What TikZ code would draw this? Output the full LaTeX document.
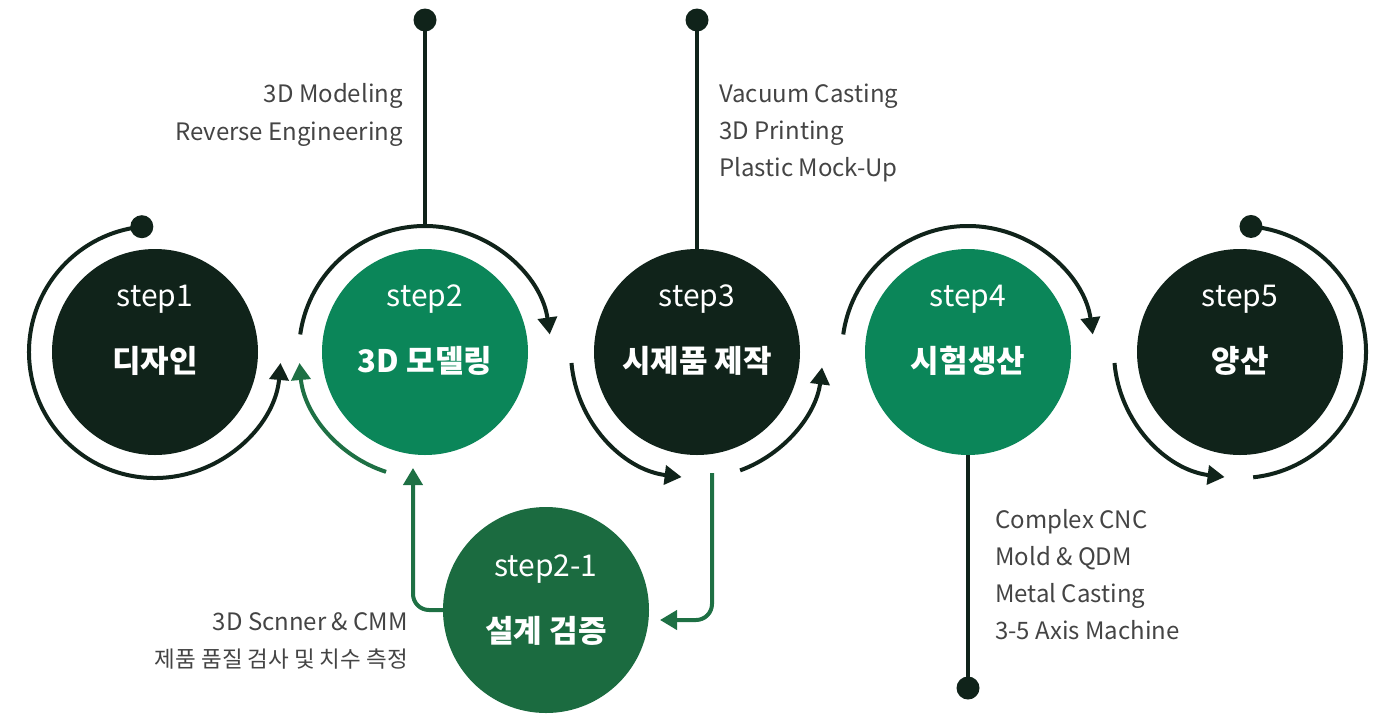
\documentclass[tikz,border=0pt]{standalone}
\usepackage{fontspec}
\setmainfont{Noto Sans CJK KR}
\usetikzlibrary{arrows.meta}
\definecolor{dk}{HTML}{10231A}
\definecolor{gr}{HTML}{0B8659}
\definecolor{gv}{HTML}{1B6B40}
\definecolor{ga}{HTML}{1E7044}
\definecolor{tx}{HTML}{444444}
\begin{document}
\begin{tikzpicture}[x=1pt,y=1pt,
  stepcircle/.style={circle, minimum size=206pt, inner sep=0pt, draw=none},
  dot/.style={circle, fill=dk, minimum size=23pt, inner sep=0pt},
  ring/.style={draw=dk, line width=4pt},
  gring/.style={draw=ga, line width=4pt},
  tip/.style={-{Triangle[length=17pt,width=19pt]}},
  steplbl/.style={text=white, inner sep=0pt, anchor=base, font=\fontsize{30}{34}\selectfont},
  ttl/.style={text=white, inner sep=0pt, font=\bfseries\fontsize{31}{35}\selectfont},
  lbl/.style={text=tx, inner sep=0pt, font=\fontsize{24}{28}\selectfont},
  klbl/.style={text=tx, inner sep=0pt, font=\fontsize{22.5}{27}\selectfont},
]
\useasboundingbox (0,0) rectangle (1379,-716);

% main circles
\node[stepcircle, fill=dk] (s1) at (155,-352) {};
\node[stepcircle, fill=gr] (s2) at (425,-352) {};
\node[stepcircle, fill=dk] (s3) at (697,-352) {};
\node[stepcircle, fill=gr] (s4) at (968,-352) {};
\node[stepcircle, fill=dk] (s5) at (1240,-352) {};
\node[stepcircle, fill=gv] (s21) at (546,-610) {};

% texts in circles
\node[steplbl] (s1a) at (155,-306) {step1};
\node[ttl] (s1b) at (155,-361) {디자인};
\node[steplbl] (s2a) at (425,-306) {step2};
\node[ttl] (s2b) at (425,-361) {3D 모델링};
\node[steplbl] (s3a) at (697,-306) {step3};
\node[ttl] (s3b) at (697,-361) {시제품 제작};
\node[steplbl] (s4a) at (968,-306) {step4};
\node[ttl] (s4b) at (968,-361) {시험생산};
\node[steplbl] (s5a) at (1240,-306) {step5};
\node[ttl] (s5b) at (1240,-361) {양산};
\node[steplbl] (s21a) at (546,-576) {step2-1};
\node[ttl] (s21b) at (546,-631) {설계 검증};

% step1 ring
\node[dot] (d1) at ([shift={(96:126)}]s1.center) {};
\draw[ring, tip] (d1.center) arc[start angle=96, end angle=355, radius=126];

% step2 arcs
\draw[ring, tip] ([shift={(172:126)}]s2.center) arc[start angle=172, end angle=8, radius=126];
\node[dot] (d2) at (425,-20) {};
\coordinate (t2) at ([shift={(90:126)}]s2.center);
\draw[ring] (d2.center) -- (t2);
\draw[gring, tip] ([shift={(252:126)}]s2.center) arc[start angle=252, end angle=185, radius=126];

% step3 arcs
\node[dot] (d3) at (697,-20) {};
\draw[ring] (d3.center) -- (s3.north);
\draw[ring, tip] ([shift={(185:126)}]s3.center) arc[start angle=185, end angle=263, radius=126];
\draw[ring, tip] ([shift={(290:126)}]s3.center) arc[start angle=290, end angle=353, radius=126];

% step4 arcs
\draw[ring, tip] ([shift={(172:126)}]s4.center) arc[start angle=172, end angle=8, radius=126];
\node[dot] (d4) at (968,-688) {};
\draw[ring] (s4.south) -- (d4.center);

% step5 arcs
\node[dot] (d5) at ([shift={(85:126)}]s5.center) {};
\draw[ring] (d5.center) arc[start angle=85, end angle=-84, radius=126];
\draw[ring, tip] ([shift={(185:126)}]s5.center) arc[start angle=185, end angle=263, radius=126];

% step2-1 connectors
\coordinate (l1) at (413,-468);
\draw[gring, tip, rounded corners=16pt] (s21.west) -- (413,-610) -- (l1);
\coordinate (r0) at (712,-473);
\coordinate (r1) at (660,-620);
\draw[gring, tip, rounded corners=16pt] (r0) -- (712,-620) -- (r1);

% labels
\node[lbl, anchor=base east] (a1) at (403,-102) {3D Modeling};
\node[lbl, anchor=base east] (a2) at (403,-140) {Reverse Engineering};
\node[lbl, anchor=base west] (b1) at (719,-102) {Vacuum Casting};
\node[lbl, anchor=base west] (b2) at (719,-139) {3D Printing};
\node[lbl, anchor=base west] (b3) at (719,-176) {Plastic Mock-Up};
\node[lbl, anchor=base west] (c1) at (995,-528) {Complex CNC};
\node[lbl, anchor=base west] (c2) at (995,-565) {Mold \& QDM};
\node[lbl, anchor=base west] (c3) at (995,-602) {Metal Casting};
\node[lbl, anchor=base west] (c4) at (995,-639) {3-5 Axis Machine};
\node[lbl, anchor=base east] (e1) at (408,-630) {3D Scnner \& CMM};
\node[klbl, anchor=base east] (e2) at (408,-667) {제품 품질 검사 및 치수 측정};
\end{tikzpicture}
\end{document}
